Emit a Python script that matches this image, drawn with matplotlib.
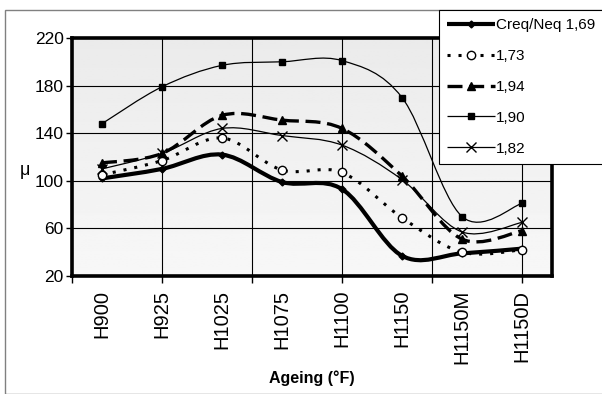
import matplotlib
matplotlib.use("Agg")
import matplotlib.pyplot as plt
import numpy as np
from matplotlib.lines import Line2D
from matplotlib.patches import PathPatch, Rectangle
from matplotlib.path import Path

plt.rcParams["font.family"] = ["Liberation Sans", "DejaVu Sans"]

# data
ageing = ["H900", "H925", "H1025", "H1075", "H1100", "H1150", "H1150M", "H1150D"]
mu_169 = [102, 110, 122, 99, 93, 37, 39, 43]
mu_173 = [105, 117, 136, 109, 107, 69, 40, 42]
mu_194 = [115, 123, 155, 151, 144, 104, 51, 58]
mu_190 = [148, 179, 197, 200, 201, 170, 70, 81]
mu_182 = [110, 123, 144, 138, 130, 101, 57, 65]
labels = ["Creq/Neq 1,69", "1,73", "1,94", "1,90", "1,82"]
y_ticks = [20, 60, 100, 140, 180, 220]

W, H = 602, 394


def smooth_path(xs, ys):
	# excel style smoothed line: bezier segments through every point
	pts = np.column_stack([xs, ys]).astype(float)
	n = len(pts)
	verts = [pts[0]]
	codes = [Path.MOVETO]
	for i in range(n - 1):
		p0 = pts[i - 1] if i > 0 else pts[i]
		p1 = pts[i]
		p2 = pts[i + 1]
		p3 = pts[i + 2] if i + 2 < n else pts[i + 1]
		c1 = p1 + (p2 - p0) / 6.0
		c2 = p2 - (p3 - p1) / 6.0
		verts += [c1, c2, p2]
		codes += [Path.CURVE4] * 3
	return Path(verts, codes)


def main():
	fig = plt.figure(figsize=(W / 100, H / 100), dpi=100)
	fig.patches.append(Rectangle((5 / W, 0), 2, 1 - 10 / H, transform=fig.transFigure,
		fill=False, edgecolor="#808080", lw=1))

	ax = fig.add_axes([72 / W, 1 - 276 / H, 480 / W, 238 / H])
	grad = np.linspace(0.97, 0.92, 100).reshape(-1, 1)
	ax.imshow(grad, extent=(0, 1, 1, 0), transform=ax.transAxes, cmap="gray",
		vmin=0, vmax=1, aspect="auto", zorder=0)

	x = np.arange(1, len(ageing) + 1)

	series = [
		(mu_169, dict(lw=3.0, ls="-"), dict(marker="D", ms=3.5, mfc="black", mec="black")),
		(mu_173, dict(lw=2.2, ls=(0, (1.0, 2.6))), dict(marker="o", ms=6, mfc="white", mec="black", mew=1.0)),
		(mu_194, dict(lw=2.4, ls=(0, (4.5, 2.0))), dict(marker="^", ms=5.5, mfc="black", mec="black")),
		(mu_190, dict(lw=0.9, ls="-"), dict(marker="s", ms=4, mfc="black", mec="black")),
		(mu_182, dict(lw=0.9, ls="-"), dict(marker="x", ms=7, mfc="black", mec="black", mew=1.0)),
	]

	handles = []
	for vals, line_kw, marker_kw in series:
		patch = PathPatch(smooth_path(x, vals), fill=False, edgecolor="black",
			linewidth=line_kw["lw"], linestyle=line_kw["ls"], capstyle="butt", zorder=3)
		ax.add_patch(patch)
		ax.plot(x, vals, ls="none", zorder=4, **marker_kw)
		handles.append(Line2D([], [], color="black", lw=line_kw["lw"], ls=line_kw["ls"],
			solid_capstyle="butt", dash_capstyle="butt", **marker_kw))

	ax.set_xlim(0.5, 8.5)
	ax.set_ylim(20, 220)
	ax.set_yticks(y_ticks)
	ax.xaxis.remove_overlapping_locs = False
	ax.set_xticks(np.arange(0.5, 8.6, 1.5))
	ax.set_xticklabels([])
	ax.set_xticks(x, minor=True)
	ax.set_xticklabels(ageing, minor=True, rotation=90, fontsize=14.5)
	ax.tick_params(axis="x", which="major", length=5, width=1, direction="out")
	ax.tick_params(axis="x", which="minor", length=0, pad=10)
	ax.tick_params(axis="y", length=4, width=1, direction="out", labelsize=12.5, pad=2)
	ax.grid(True, which="major", color="black", lw=0.8, zorder=1)
	ax.set_axisbelow(True)
	for sp in ax.spines.values():
		sp.set_linewidth(2.6)
		sp.set_zorder(5)

	fig.text(25 / W, 1 - 170 / H, "\u03bc", fontsize=13, ha="center", va="center")
	fig.text(312 / W, 1 - 378 / H, "Ageing (\u00b0F)", fontsize=11.5, fontweight="bold",
		ha="center", va="center")

	leg = fig.legend(handles, labels, loc="upper left", bbox_to_anchor=(439 / W, 1 - 10 / H),
		bbox_transform=fig.transFigure, borderaxespad=0, fontsize=11, handlelength=3.1,
		handletextpad=0.1, labelspacing=1.1, borderpad=0.55, fancybox=False,
		edgecolor="black", framealpha=1)
	leg.get_frame().set_linewidth(0.8)
	leg.set_zorder(10)

	fig.savefig("out.png", dpi=100)
	plt.close(fig)


if __name__ == "__main__":
	main()
